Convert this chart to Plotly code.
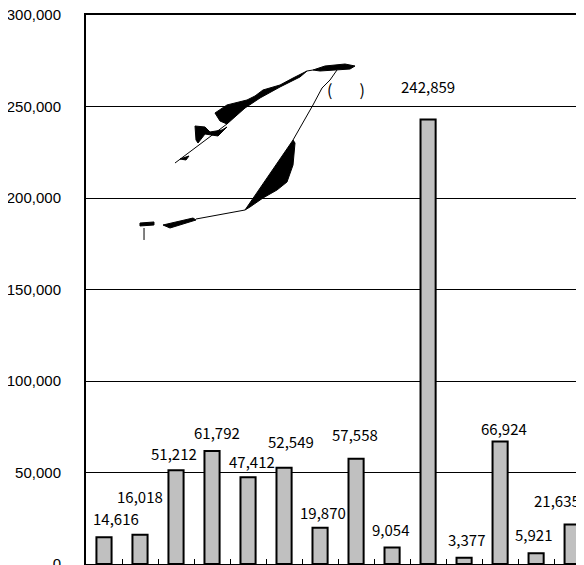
import plotly.graph_objects as go

categories = ["c01", "c02", "c03", "c04", "c05", "c06", "c07",
              "c08", "c09", "c10", "c11", "c12", "c13", "c14"]
values = [14616, 16018, 51212, 61792, 47412, 52549, 19870, 57558, 9054, 242859, 3377, 66924, 5921, 21635]
value_labels = ["14,616", "16,018", "51,212", "61,792", "47,412", "52,549", "19,870",
                "57,558", "9,054", "242,859", "3,377", "66,924", "5,921", "21,635"]
y_ticks = [0, 50000, 100000, 150000, 200000, 250000, 300000]
y_tick_labels = ["0", "50,000", "100,000", "150,000", "200,000", "250,000", "300,000"]

# label placement offsets (pixels) relative to bar top
label_dx = [12, 0, -2, 5, 4, 7, 3, -1, -2, 0, 2, 4, -3, -15]
label_dy = [19, 38, 17, 18, 16, 26, 15, 24, 18, 33, 18, 13, 19, 24]

fig = go.Figure()
fig.add_trace(go.Bar(
    x=categories, y=values, width=0.42,
    marker=dict(color="#C0C0C0", line=dict(color="black", width=2)),
    hoverinfo="skip",
))

for i, (v, t, dx, dy) in enumerate(zip(values, value_labels, label_dx, label_dy)):
    fig.add_annotation(x=i, y=v, text=t, showarrow=False, xshift=dx, yshift=dy,
                       font=dict(family="Noto Sans CJK JP", size=15, color="black"))

# decorative garbled title glyph (drawn as black strokes), in plot-area pixel space
PX0, PX1, PY0, PY1 = 86, 584, 15, 564


def to_path(pts, close=True):
    segs = []
    for k, (px, py) in enumerate(pts):
        xp = (px - PX0) / (PX1 - PX0)
        yp = (PY1 - py) / (PY1 - PY0)
        segs.append(("M" if k == 0 else "L") + f"{xp:.4f},{yp:.4f}")
    return " ".join(segs) + (" Z" if close else "")


filled_glyphs = [
    [(245, 210), (293, 140), (295, 143), (293, 165), (287, 182), (277, 190), (263, 198), (250, 207)],
    [(215, 113), (227, 105), (247, 100), (255, 96), (263, 90), (280, 85), (293, 78), (307, 71),
     (300, 77), (280, 87), (260, 98), (245, 108), (227, 124), (220, 121)],
    [(313, 70), (325, 66), (345, 64), (355, 66), (350, 69), (320, 71)],
    [(195, 126), (205, 127), (210, 132), (222, 130), (227, 127), (218, 136), (205, 134), (198, 143), (196, 140)],
    [(163, 225), (193, 218), (196, 220), (170, 228)],
    [(140, 223), (154, 222), (154, 225), (140, 226)],
    [(180, 159), (189, 156), (186, 160)],
]
thin_glyphs = [
    [(293, 140), (313, 105), (322, 88), (330, 80), (337, 70)],
    [(227, 124), (175, 163)],
    [(245, 210), (196, 219)],
    [(307, 71), (313, 70)],
    [(144, 228), (144, 240)],
]
for pts in filled_glyphs:
    fig.add_shape(type="path", path=to_path(pts), xref="paper", yref="paper",
                  fillcolor="black", line=dict(color="black", width=1))
for pts in thin_glyphs:
    fig.add_shape(type="path", path=to_path(pts, close=False), xref="paper", yref="paper",
                  line=dict(color="black", width=1))

fig.add_annotation(xref="paper", yref="paper", x=0.522, y=0.89, text="(\u3000\u2002\u2009)",
                   showarrow=False, font=dict(family="Noto Sans CJK JP", size=16, color="black"))

# page body has an 8px margin, so the figure is sized/offset to compensate
fig.update_layout(
    width=576, height=557,
    margin=dict(l=78, r=0, t=7, b=1),
    plot_bgcolor="white", paper_bgcolor="white",
    showlegend=False,
)
fig.update_xaxes(
    type="category",
    range=[-0.5, 13.33], showticklabels=False, automargin=False,
    showline=True, linecolor="black", linewidth=2, mirror=True,
    ticks="inside", tickson="boundaries", ticklen=5, tickcolor="black", tickwidth=1,
    showgrid=False, zeroline=False,
)
fig.update_yaxes(
    range=[0, 300000], tickvals=y_ticks, ticktext=y_tick_labels, automargin=False,
    showline=True, linecolor="black", linewidth=2,
    showgrid=True, gridcolor="black", gridwidth=1, zeroline=False,
    ticks="", ticklabelstandoff=20, ticklabeloverflow="allow",
    tickfont=dict(family="Liberation Sans", size=15, color="black"),
)

fig.write_html("out.html")
